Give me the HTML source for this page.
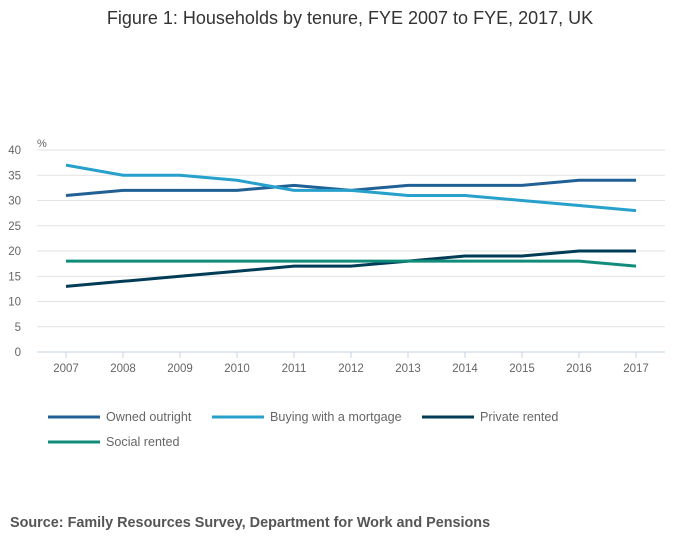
<!DOCTYPE html>
<html><head><meta charset="utf-8"><style>
body{margin:0;background:#fff;width:700px;height:549px;overflow:hidden;font-family:"Liberation Sans",sans-serif;}
svg text{font-family:"Liberation Sans",sans-serif;}
</style></head><body>
<svg id="chart" width="700" height="549" xmlns="http://www.w3.org/2000/svg">
<text x="350" y="24" text-anchor="middle" font-size="18" fill="#333">Figure 1: Households by tenure, FYE 2007 to FYE, 2017, UK</text>
<text x="37" y="147" font-size="11" fill="#666">%</text>
<g id="grid"></g><g id="xaxis"></g><g id="lines"></g>
<g id="legend"></g>
<text x="10" y="527" font-size="14.4" font-weight="bold" fill="#555">Source: Family Resources Survey, Department for Work and Pensions</text>
</svg>
<script>
const years=[2007,2008,2009,2010,2011,2012,2013,2014,2015,2016,2017];
const yTicks=[0,5,10,15,20,25,30,35,40];
const ownedOutright=[31,32,32,32,33,32,33,33,33,34,34];
const buyingMortgage=[37,35,35,34,32,32,31,31,30,29,28];
const privateRented=[13,14,15,16,17,17,18,19,19,20,20];
const socialRented=[18,18,18,18,18,18,18,18,18,18,17];
const seriesNames=["Owned outright","Buying with a mortgage","Private rented","Social rented"];
const NS="http://www.w3.org/2000/svg";
const x=i=>66+i*57, y=v=>352-v*(202/40);
function mk(t,a,p){const e=document.createElementNS(NS,t);for(const k in a)e.setAttribute(k,a[k]);p.appendChild(e);return e;}
const grid=document.getElementById('grid');
yTicks.forEach(v=>{
 const l=mk('line',{x1:37,x2:665,y1:y(v),y2:y(v),stroke:v===0?'#c5d3e6':'#e2e2e2','stroke-width':1},grid);
 
 
 const t=mk('text',{x:21,y:y(v)+4,'text-anchor':'end','font-size':11.5,fill:'#666'},grid);t.textContent=v;
 
 
});
const xa=document.getElementById('xaxis');
years.forEach((yr,i)=>{
 const tk=mk('line',{x1:x(i),x2:x(i),y1:352,y2:358,stroke:'#c5d3e6'},xa);
 
 
 const t=mk('text',{x:x(i),y:372,'text-anchor':'middle','font-size':11.5,fill:'#666'},xa);t.textContent=yr;
 
 
});
const data=[ownedOutright,buyingMortgage,privateRented,socialRented];
const colors=['#206095','#27a0cc','#003c57','#118c7b'];
const lines=document.getElementById('lines');
data.forEach((s,k)=>{
 const p=mk('polyline',{points:s.map((v,i)=>x(i)+','+y(v)).join(' '),fill:'none',stroke:colors[k],'stroke-width':3},lines);
 
 
});
const lg=document.getElementById('legend');
const lpos=[[48,417],[212,417],[422,417],[48,442]];
seriesNames.forEach((n,k)=>{
 const g=mk('g',{},lg);
 
 
 mk('line',{x1:lpos[k][0],x2:lpos[k][0]+52,y1:lpos[k][1],y2:lpos[k][1],stroke:colors[k],'stroke-width':3},g);
 const t=mk('text',{x:lpos[k][0]+58,y:lpos[k][1]+4,'font-size':12.6,fill:'#666'},g);t.textContent=n;
});
</script>
</body></html>
